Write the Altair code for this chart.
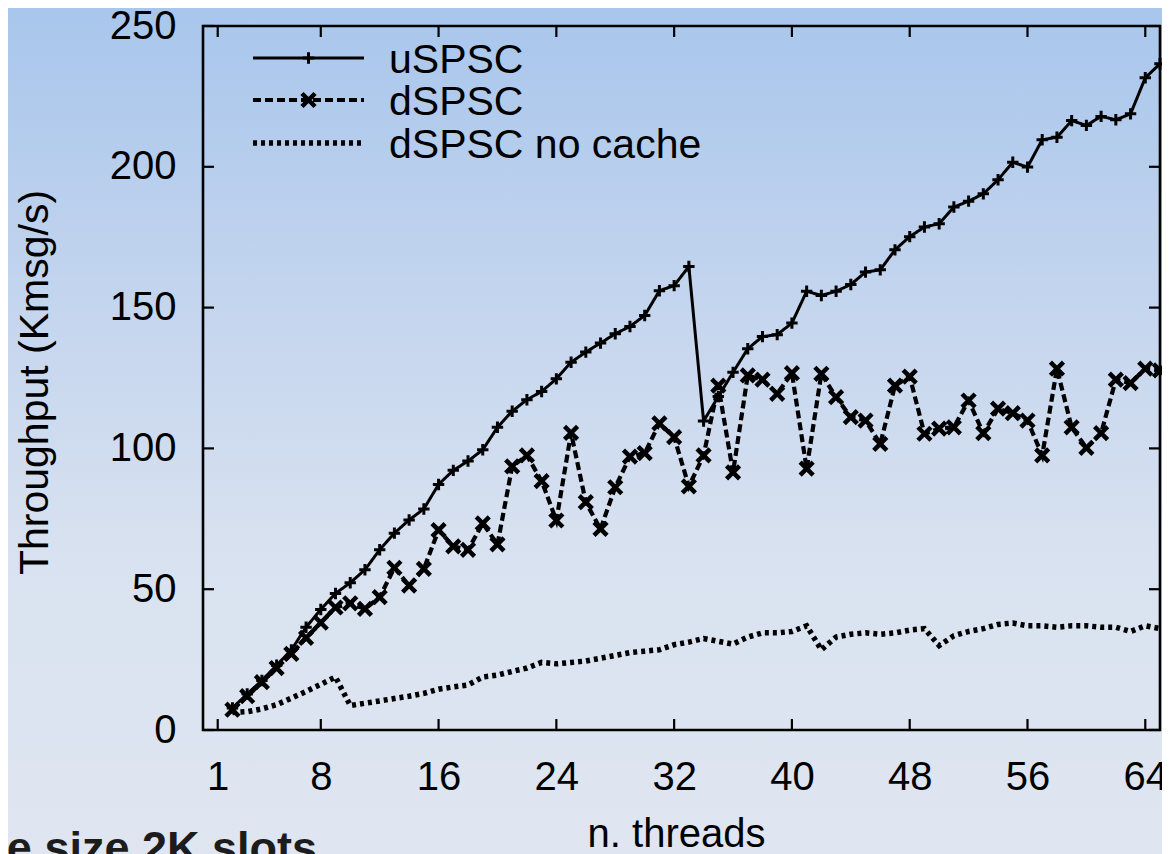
import altair as alt
import pandas as pd

threads = [2, 3, 4, 5, 6, 7, 8, 9, 10, 11, 12, 13, 14, 15, 16, 17, 18, 19, 20, 21,
           22, 23, 24, 25, 26, 27, 28, 29, 30, 31, 32, 33, 34, 35, 36, 37, 38, 39, 40,
           41, 42, 43, 44, 45, 46, 47, 48, 49, 50, 51, 52, 53, 54, 55, 56, 57, 58, 59,
           60, 61, 62, 63, 64, 65]

uspsc = [7.8, 12.8, 17.6, 23.0, 28.4, 36.5, 42.8, 48.5, 52.3, 56.9, 64.0, 69.9, 74.6,
         78.5, 87.2, 92.2, 95.5, 99.5, 107.5, 113.2, 117.3, 120.2, 124.7, 130.6, 134.2,
         137.4, 140.7, 143.3, 147.2, 156.0, 157.8, 164.6, 109.7, 118.4, 127.0, 135.4,
         139.7, 140.4, 144.5, 155.8, 154.3, 155.8, 158.2, 162.6, 163.4, 170.5, 175.2,
         178.6, 179.8, 185.7, 187.8, 190.4, 195.4, 201.6, 199.9, 209.6, 210.5, 216.4,
         214.7, 217.9, 216.7, 218.8, 231.6, 236.6]

dspsc = [7.2, 12.0, 17.0, 22.0, 27.0, 32.7, 38.1, 43.5, 45.0, 43.0, 47.2, 57.6, 51.3,
         57.2, 71.0, 65.2, 64.0, 73.4, 65.9, 93.6, 97.5, 88.4, 74.4, 105.5, 80.9, 71.4,
         86.2, 97.1, 98.3, 108.9, 104.0, 86.5, 97.5, 122.3, 91.5, 125.9, 124.4, 119.4,
         126.7, 92.8, 126.5, 118.2, 111.1, 109.9, 101.6, 122.3, 125.5, 105.2, 107.0,
         107.5, 117.0, 105.4, 114.1, 112.5, 109.9, 97.5, 128.3, 107.5, 100.2, 105.4,
         124.4, 123.2, 128.3, 127.7]

nocache = [6.2, 6.5, 7.5, 9.0, 11.3, 13.7, 16.2, 18.8, 8.7, 9.5, 10.3, 11.2, 12.0, 13.0,
           14.5, 15.3, 16.0, 18.8, 19.5, 20.8, 22.0, 24.0, 23.5, 24.0, 24.5, 25.5, 26.5,
           27.5, 28.0, 28.5, 30.3, 31.2, 32.5, 31.5, 30.5, 33.0, 34.5, 34.5, 35.0, 37.0,
           28.5, 33.0, 34.0, 34.5, 34.0, 34.5, 35.5, 36.0, 30.0, 33.5, 35.0, 36.0, 37.5,
           38.0, 37.0, 37.0, 36.5, 37.0, 37.0, 36.5, 36.5, 35.0, 37.0, 36.0]

series_names = ["uSPSC", "dSPSC", "dSPSC no cache"]
x_ticks = [1, 8, 16, 24, 32, 40, 48, 56, 64]
y_ticks = [0, 50, 100, 150, 200, 250]
bottom_note = "Queue size 2K slots"

rows = []
for name, vals in zip(series_names, [uspsc, dspsc, nocache]):
    for t, v in zip(threads, vals):
        rows.append({"threads": t, "value": v, "series": name})
df = pd.DataFrame(rows)

W, H = 957, 704
FONT = "Liberation Sans"
PLUS = "M-1,0H1M0,-1V1"
CROSS = "M-1,-1L1,1M-1,1L1,-1"

xs = alt.Scale(domain=[0, 65], nice=False, zero=False)
ys = alt.Scale(domain=[0, 250], nice=False, zero=False)

x_axis = alt.Axis(values=x_ticks, title="n. threads", grid=False, ticks=False, tickSize=0,
                  domain=False, labelFontSize=40, labelPadding=27, labelColor="black",
                  labelFont=FONT, labelOverlap=False, labelFlush=False,
                  titleFontSize=40, titleFont=FONT, titleFontWeight="normal",
                  titleColor="black", titleX=473, titleY=116, titleBaseline="alphabetic",
                  titleAlign="center", zindex=1)
y_axis = alt.Axis(values=y_ticks, title="Throughput (Kmsg/s)", grid=False, ticks=False,
                  tickSize=0, domain=False, labelFontSize=40, labelPadding=27,
                  labelColor="black", labelFont=FONT, labelOverlap=False, labelFlush=False,
                  titleFontSize=41, titleFont=FONT, titleFontWeight="normal",
                  titleColor="black", titleX=-168, titleY=H / 2 + 4, titleAngle=270,
                  titleBaseline="middle", titleAlign="center", zindex=1)


def X(field):
    return alt.X(f"{field}:Q", scale=xs, axis=x_axis)


def Y(field):
    return alt.Y(f"{field}:Q", scale=ys, axis=y_axis)


one = pd.DataFrame({"k": [0]})

bg = alt.Chart(one).mark_rect(
    fill=alt.Gradient(
        gradient="linear", x1=0, x2=0, y1=0, y2=1,
        stops=[alt.GradientStop(color="#A8C6EC", offset=0),
               alt.GradientStop(color="#C4D5EE", offset=0.35),
               alt.GradientStop(color="#D9E2F0", offset=0.65),
               alt.GradientStop(color="#DFE6F1", offset=1)]),
    strokeWidth=0,
).encode(x=alt.value(-200), x2=alt.value(W + 10), y=alt.value(-20), y2=alt.value(H + 130))

base = alt.Chart(df)

line_styles = {
    "uSPSC": dict(strokeWidth=3, strokeDash=[1, 0]),
    "dSPSC": dict(strokeWidth=4.2, strokeDash=[8, 4]),
    "dSPSC no cache": dict(strokeWidth=5.5, strokeDash=[4, 4]),
}

lines = []
for name in series_names:
    st = line_styles[name]
    lines.append(
        base.transform_filter(alt.datum.series == name)
        .mark_line(color="black", strokeCap="butt", **st)
        .encode(x=X("threads"), y=Y("value"))
    )

PLUS_STYLE = dict(shape=PLUS, size=130, strokeWidth=3, color="black", filled=False, opacity=1)
CROSS_STYLE = dict(shape=CROSS, size=170, strokeWidth=4.5, color="black", filled=False, opacity=1)

pts_u = base.transform_filter(alt.datum.series == "uSPSC").mark_point(
    **PLUS_STYLE).encode(x=X("threads"), y=Y("value"))

pts_d = base.transform_filter(alt.datum.series == "dSPSC").mark_point(
    **CROSS_STYLE).encode(x=X("threads"), y=Y("value"))

xt = pd.DataFrame({"tick": x_ticks})
yt = pd.DataFrame({"tick": y_ticks})
TL = 11
tick_b = alt.Chart(xt).mark_rule(color="black", strokeWidth=2.2).encode(
    x=X("tick"), y=alt.value(H), y2=alt.value(H - TL))
tick_t = alt.Chart(xt).mark_rule(color="black", strokeWidth=2.2).encode(
    x=X("tick"), y=alt.value(0), y2=alt.value(TL))
tick_l = alt.Chart(yt).mark_rule(color="black", strokeWidth=2.2).encode(
    y=Y("tick"), x=alt.value(0), x2=alt.value(TL))
tick_r = alt.Chart(yt).mark_rule(color="black", strokeWidth=2.2).encode(
    y=Y("tick"), x=alt.value(W), x2=alt.value(W - TL))

frame = alt.Chart(one).mark_rect(fillOpacity=0, stroke="black", strokeWidth=2.6).encode(
    x=alt.value(0), x2=alt.value(W), y=alt.value(0), y2=alt.value(H))

# legend (top-left, inside the frame)
leg_rows = [32, 74, 117]
leg = []
for name, ry in zip(series_names, leg_rows):
    st = line_styles[name]
    leg.append(alt.Chart(one).mark_rule(color="black", strokeCap="butt", **st).encode(
        x=alt.value(50), x2=alt.value(161), y=alt.value(ry)))
    leg.append(alt.Chart(one).mark_text(
        align="left", baseline="alphabetic", fontSize=41, font=FONT, color="black"
    ).encode(x=alt.value(186), y=alt.value(ry + 15), text=alt.value(name)))
leg.append(alt.Chart(one).mark_point(**PLUS_STYLE).encode(
    x=alt.value(105.5), y=alt.value(leg_rows[0])))
leg.append(alt.Chart(one).mark_point(**CROSS_STYLE).encode(
    x=alt.value(105.5), y=alt.value(leg_rows[1])))

note = alt.Chart(one).mark_text(
    align="right", baseline="alphabetic", fontSize=45, fontWeight="bold", font=FONT,
    color="#1c1c1c"
).encode(x=alt.value(114), y=alt.value(837), text=alt.value(bottom_note))

chart = alt.layer(
    bg, *lines, pts_u, pts_d, tick_b, tick_t, tick_l, tick_r, frame, *leg, note
).properties(
    width=W, height=H,
    padding={"left": 195, "top": 18, "right": 2, "bottom": 124},
    autosize=alt.AutoSizeParams(type="none"),
).configure_view(strokeWidth=0).configure(font=FONT)

chart.save("out.html", embed_options={"renderer": "svg", "actions": False})
